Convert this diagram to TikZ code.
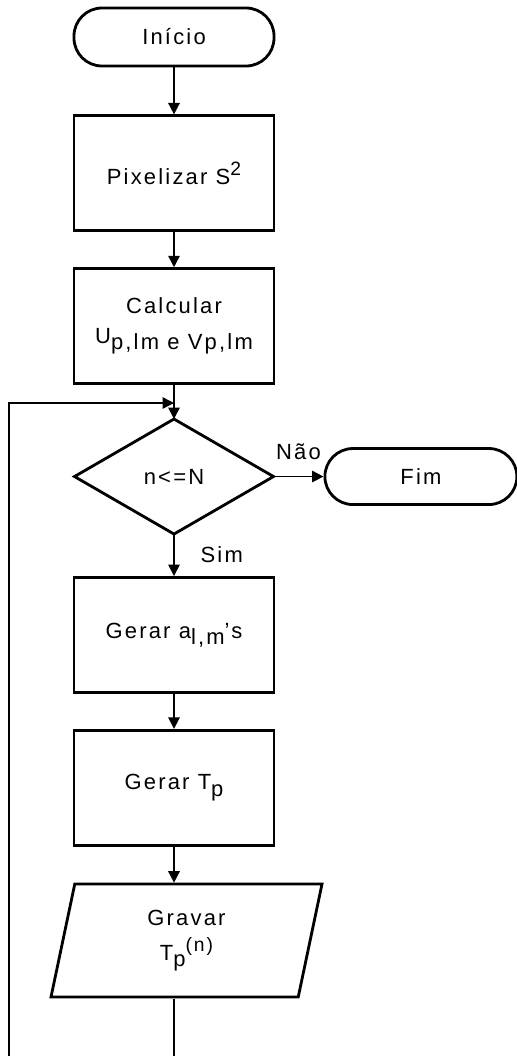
\documentclass[tikz,border=0pt]{standalone}
\usepackage{fontspec}
\setmainfont[LetterSpace=10]{Liberation Sans}
\usetikzlibrary{shapes.geometric,arrows.meta,positioning,calc}

\newcommand{\baixo}[1]{\raisebox{-0.55ex}{#1}}
\newcommand{\alto}[1]{\raisebox{0.75ex}{\fontsize{11}{13}\selectfont #1}}

\begin{document}
\begin{tikzpicture}[
    node distance=0.8cm,
    terminal/.style={rectangle, draw, line width=1.6pt, rounded corners=0.56cm, minimum width=4cm, minimum height=1.16cm, font=\fontsize{12.5}{15}\selectfont},
    processo/.style={rectangle, draw, line width=1.6pt, minimum width=4cm, minimum height=2.3cm, align=center, font=\fontsize{12.5}{15}\selectfont},
    decisao/.style={diamond, draw, line width=1.6pt, aspect=1.72, inner sep=0pt, outer sep=0pt, minimum width=3.98cm, minimum height=2.3cm, font=\fontsize{12.5}{15}\selectfont},
    entrada/.style={trapezium, draw, line width=1.6pt, trapezium left angle=72, trapezium right angle=108, trapezium stretches body, minimum width=5.42cm, minimum height=2.26cm, align=center, font=\fontsize{12.5}{15}\selectfont},
    seta/.style={-{Triangle[length=6.5pt,width=6.5pt]}, line width=0.9pt},
    rotulo/.style={font=\fontsize{12.5}{15}\selectfont}
]

\useasboundingbox (0,0) rectangle (10.34,-21.12);
\clip (0,0) rectangle (10.34,-21.12);

% Inicio e preparacao
\node[terminal] (inicio) at (3.48,-0.74) {Início};
\node[processo, below=0.94cm of inicio] (pixelizar) {Pixelizar S\alto{2}};
\node[processo, below=0.7cm of pixelizar] (calcular) {Calcular\\[2pt]U\baixo{p,lm e Vp,lm}};

% Decisao
\node[decisao, below=0.68cm of calcular] (teste) {n<=N};
\node[terminal, minimum width=3.84cm, minimum height=1.12cm, right=1.0cm of teste] (fim) {Fim};
\coordinate (juncao) at (calcular.south |- 0,-8.06);
\coordinate (retorno) at (0.18,-8.06);

% Corpo do laco
\node[processo, below=0.84cm of teste] (gerara) {Gerar a\baixo{l,m}'s};
\node[processo, below=0.7cm of gerara] (gerart) {Gerar T\baixo{p}};
\node[entrada, below=0.72cm of gerart, xshift=0.25cm] (gravar) {Gravar\\[5pt]T\baixo{p}\alto{(n)}};

% Setas
\draw[seta] (inicio) -- (pixelizar);
\draw[seta] (pixelizar) -- (calcular);
\draw[seta] (calcular) -- (teste);
\draw[seta] (teste) -- node[rotulo, above, yshift=6pt] {Não} (fim);
\draw[seta] (teste) -- node[rotulo, right, xshift=0.4cm] {Sim} (gerara);
\draw[seta] (gerara) -- (gerart);
\draw[seta] (gerart) -- (gerart.south |- gravar.north);

% Retorno ao teste
\draw[seta] (gerart.south |- gravar.south) -- ++(0,-3) -| (retorno) -- (juncao);

\end{tikzpicture}
\end{document}
